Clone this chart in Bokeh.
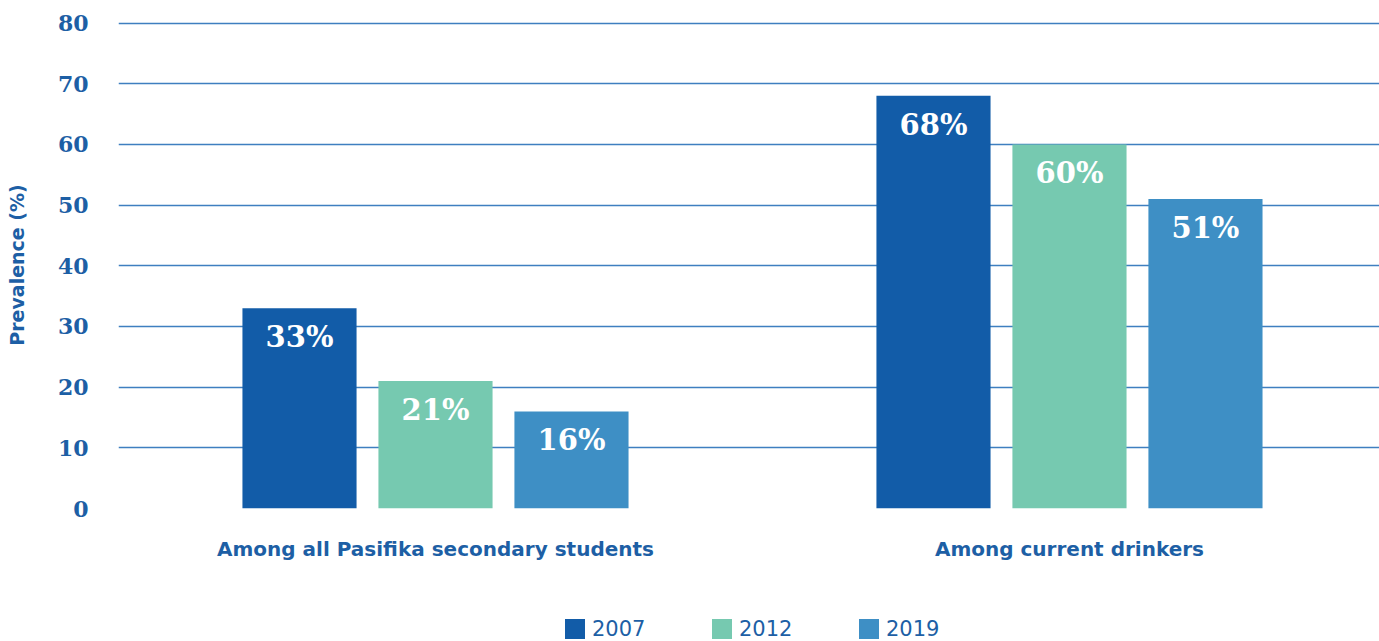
from bokeh.plotting import figure
from bokeh.layouts import column
from bokeh.models import (ColumnDataSource, Range1d, FixedTicker, Legend, LegendItem)
from bokeh.transform import dodge
from bokeh.core.properties import value
from bokeh.embed import file_html
from bokeh.resources import INLINE

categories = ["Among all Pasifika secondary students", "Among current drinkers"]
years = ["2007", "2012", "2019"]
v2007 = [33, 68]
v2012 = [21, 60]
v2019 = [16, 51]
y_ticks = [0, 10, 20, 30, 40, 50, 60, 70, 80]

colors = ["#125ca8", "#76c9b0", "#3e8fc5"]
blue_text = "#1d5fa5"

xpos = list(range(len(categories)))
src = ColumnDataSource(dict(
    x=xpos,
    v2007=v2007, v2012=v2012, v2019=v2019,
    l2007=[f"{v}%" for v in v2007],
    l2012=[f"{v}%" for v in v2012],
    l2019=[f"{v}%" for v in v2019],
))

p = figure(width=1379, height=568, output_backend="svg", toolbar_location=None,
           x_range=Range1d(-0.5, 1.489), y_range=Range1d(0, 80.25),
           min_border_left=118, min_border_right=0, min_border_top=21,
           min_border_bottom=60)
p.outline_line_color = None
p.background_fill_color = "white"
p.border_fill_color = "white"

offsets = [-0.2145, 0.0, 0.2145]
for yr, off, col in zip(years, offsets, colors):
    p.vbar(x=dodge("x", off, range=p.x_range), top="v" + yr, width=0.18,
           source=src, fill_color=col, line_color=None)
    p.text(x=dodge("x", off, range=p.x_range), y="v" + yr, text="l" + yr, source=src,
           text_color="white", text_font=value("DejaVu Serif"), text_font_style="bold",
           text_font_size="29px", text_align="center", text_baseline="middle",
           y_offset=29)

# axes
p.xaxis.ticker = FixedTicker(ticks=xpos)
p.xaxis.major_label_overrides = {i: c for i, c in enumerate(categories)}
p.xaxis.axis_line_color = None
p.xaxis.major_tick_line_color = None
p.xaxis.minor_tick_line_color = None
p.xaxis.major_tick_out = 0
p.xaxis.major_tick_in = 0
p.xaxis.minor_tick_out = 0
p.xaxis.major_label_standoff = 28
p.xaxis.major_label_text_font = "DejaVu Sans"
p.xaxis.major_label_text_font_style = "bold"
p.xaxis.major_label_text_font_size = "20px"
p.xaxis.major_label_text_color = blue_text

p.yaxis.ticker = FixedTicker(ticks=y_ticks)
p.yaxis.axis_line_color = None
p.yaxis.major_tick_line_color = None
p.yaxis.minor_tick_line_color = None
p.yaxis.major_tick_out = 0
p.yaxis.major_tick_in = 0
p.yaxis.minor_tick_out = 0
p.yaxis.major_label_standoff = 30
p.yaxis.major_label_text_font = "DejaVu Serif"
p.yaxis.major_label_text_font_style = "bold"
p.yaxis.major_label_text_font_size = "22px"
p.yaxis.major_label_text_color = blue_text
p.yaxis.axis_label = "Prevalence (%)"
p.yaxis.axis_label_text_font = "DejaVu Sans"
p.yaxis.axis_label_text_font_style = "bold"
p.yaxis.axis_label_text_font_size = "19px"
p.yaxis.axis_label_text_color = blue_text
p.yaxis.axis_label_standoff = 27

p.xgrid.grid_line_color = None
p.ygrid.grid_line_color = "#3f7fc0"
p.ygrid.grid_line_width = 1.3

# legend strip below the chart
lg = figure(width=1379, height=73, output_backend="svg", toolbar_location=None,
            x_range=Range1d(0, 1), y_range=Range1d(0, 1),
            min_border_left=0, min_border_right=0, min_border_top=0, min_border_bottom=0)
lg.axis.visible = False
lg.grid.visible = False
lg.outline_line_color = None
lg.border_fill_color = "white"
lg.background_fill_color = "white"
# swatch renderers placed outside the visible range; only their legend glyphs show
swatches = [lg.vbar(x=[50], top=[0], width=0.1, fill_color=c, line_color=None) for c in colors]

legend = Legend(items=[LegendItem(label=y, renderers=[r]) for y, r in zip(years, swatches)],
                orientation="horizontal", location=(444, 0))
legend.glyph_width = 25
legend.glyph_height = 25
legend.label_standoff = 5
legend.label_width = 117
legend.spacing = 0
legend.padding = 0
legend.margin = 0
legend.label_text_font = "DejaVu Sans"
legend.label_text_font_size = "21px"
legend.label_text_color = blue_text
legend.background_fill_alpha = 0
legend.border_line_alpha = 0
lg.add_layout(legend, "center")

layout = column(p, lg, spacing=0)
open("out.html", "w").write(file_html(layout, INLINE))
